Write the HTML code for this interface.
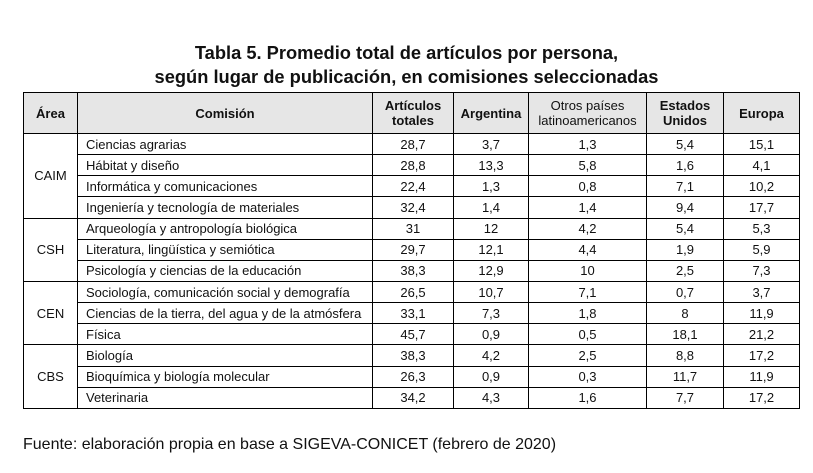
<!DOCTYPE html>
<html><head><meta charset="utf-8">
<style>
body{margin:0;background:#fff;width:813px;height:473px;position:relative;font-family:"Liberation Sans",sans-serif;color:#111;}
#title{position:absolute;left:0;top:41px;width:813px;text-align:center;font-weight:bold;font-size:18.3px;line-height:24px;}
table{position:absolute;left:23px;top:92px;border-collapse:collapse;font-size:13px;}
td,th{border:1.5px solid #000;padding:0;height:20.15px;text-align:center;}
th{background:#e6e6e6;height:40px;font-size:13px;line-height:15px;}
td.c{text-align:left;padding-left:8px;}
#foot{position:absolute;left:23px;top:436px;font-size:16px;}
</style></head><body>
<div id="title">Tabla 5. Promedio total de artículos por persona,<br>según lugar de publicación, en comisiones seleccionadas</div>
<table>
<colgroup><col style="width:54px"><col style="width:295px"><col style="width:81px"><col style="width:75px"><col style="width:118px"><col style="width:77px"><col style="width:76px"></colgroup>
<tr><th>Área</th><th>Comisión</th><th>Artículos<br>totales</th><th>Argentina</th><th style="font-weight:normal">Otros países<br>latinoamericanos</th><th>Estados<br>Unidos</th><th>Europa</th></tr>
<tr><td rowspan="4">CAIM</td><td class="c">Ciencias agrarias</td><td>28,7</td><td>3,7</td><td>1,3</td><td>5,4</td><td>15,1</td></tr>
<tr><td class="c">Hábitat y diseño</td><td>28,8</td><td>13,3</td><td>5,8</td><td>1,6</td><td>4,1</td></tr>
<tr><td class="c">Informática y comunicaciones</td><td>22,4</td><td>1,3</td><td>0,8</td><td>7,1</td><td>10,2</td></tr>
<tr><td class="c">Ingeniería y tecnología de materiales</td><td>32,4</td><td>1,4</td><td>1,4</td><td>9,4</td><td>17,7</td></tr>
<tr><td rowspan="3">CSH</td><td class="c">Arqueología y antropología biológica</td><td>31</td><td>12</td><td>4,2</td><td>5,4</td><td>5,3</td></tr>
<tr><td class="c">Literatura, lingüística y semiótica</td><td>29,7</td><td>12,1</td><td>4,4</td><td>1,9</td><td>5,9</td></tr>
<tr><td class="c">Psicología y ciencias de la educación</td><td>38,3</td><td>12,9</td><td>10</td><td>2,5</td><td>7,3</td></tr>
<tr><td rowspan="3">CEN</td><td class="c">Sociología, comunicación social y demografía</td><td>26,5</td><td>10,7</td><td>7,1</td><td>0,7</td><td>3,7</td></tr>
<tr><td class="c">Ciencias de la tierra, del agua y de la atmósfera</td><td>33,1</td><td>7,3</td><td>1,8</td><td>8</td><td>11,9</td></tr>
<tr><td class="c">Física</td><td>45,7</td><td>0,9</td><td>0,5</td><td>18,1</td><td>21,2</td></tr>
<tr><td rowspan="3">CBS</td><td class="c">Biología</td><td>38,3</td><td>4,2</td><td>2,5</td><td>8,8</td><td>17,2</td></tr>
<tr><td class="c">Bioquímica y biología molecular</td><td>26,3</td><td>0,9</td><td>0,3</td><td>11,7</td><td>11,9</td></tr>
<tr><td class="c">Veterinaria</td><td>34,2</td><td>4,3</td><td>1,6</td><td>7,7</td><td>17,2</td></tr>
</table>
<div id="foot">Fuente: elaboración propia en base a SIGEVA-CONICET (febrero de 2020)</div>
</body></html>
